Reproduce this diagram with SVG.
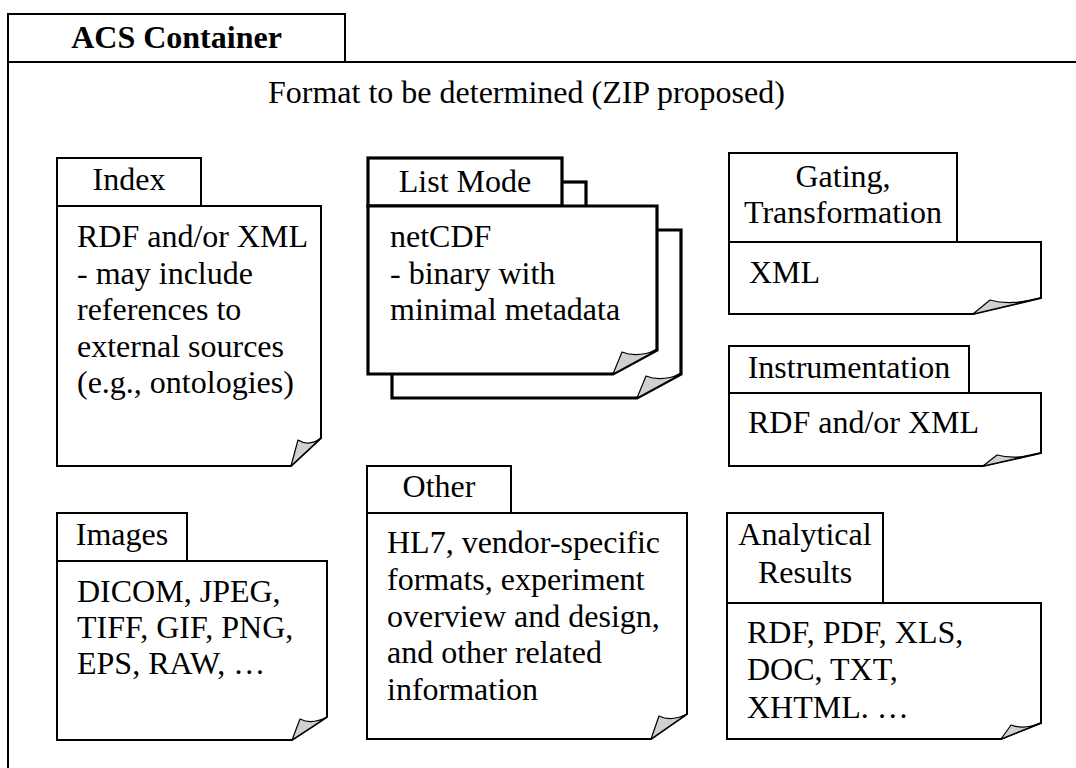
<svg xmlns="http://www.w3.org/2000/svg" width="1076" height="768" viewBox="0 0 1076 768" font-family="Liberation Serif, Times New Roman, serif" font-size="32">
<style>
text{font-family:Liberation Serif, Times New Roman, serif;font-size:32px;fill:#000}
.b{font-weight:bold}
.c{text-anchor:middle}
.ln{fill:#fff;stroke:#000;stroke-width:2;stroke-linejoin:miter}
.thick{stroke-width:3.2}
.flap{fill:#d0d0d0;stroke:#000;stroke-width:1.2;stroke-linejoin:round}
.frame{fill:none;stroke:#000;stroke-width:2}
</style>
<rect width="1076" height="768" fill="#fff"/>
<g id="container">
<path class="frame" d="M8,768 V14 H345 V62 M8,62 H1076"/>
<text class="b c" x="176.5" y="48" font-family="Liberation Serif, serif">ACS Container</text>
<text x="268" y="103" font-family="Liberation Serif, serif">Format to be determined (ZIP proposed)</text>
</g>
<g id="index" font-family="Liberation Serif, serif">
<rect class="ln" x="57" y="158" width="144" height="48"/>
<path class="ln" d="M57,206 H321 V438 L291,466 H57 Z"/>
<path class="flap" d="M291,466 L298,440 Q309,447 321,438 Z"/>
<text class="c" x="129" y="190">Index</text>
<text x="77" y="247">RDF and/or XML</text>
<text x="77" y="283.5">- may include</text>
<text x="77" y="320">references to</text>
<text x="77" y="356.5">external sources</text>
<text x="77" y="393">(e.g., ontologies)</text>
</g>
<g id="listmode">
<g transform="translate(24,24)">
<rect class="ln thick" x="368" y="158" width="194" height="48"/>
<path class="ln thick" d="M368,206 H657 V350 L613,374 H368 Z"/>
<path class="flap" d="M613,374 L622,352 Q637,358 657,350 Z"/>
</g>
<rect class="ln thick" x="368" y="158" width="194" height="48"/>
<path class="ln thick" d="M368,206 H657 V350 L613,374 H368 Z"/>
<path class="flap" d="M613,374 L622,352 Q637,358 657,350 Z"/>
<text class="c" x="465" y="192">List Mode</text>
<text x="390" y="247">netCDF</text>
<text x="390" y="283.5">- binary with</text>
<text x="390" y="320">minimal metadata</text>
</g>
<g id="gating">
<rect class="ln" x="729" y="153" width="228" height="89"/>
<path class="ln" d="M729,242 H1041 V298 L973,314 H729 Z"/>
<path class="flap" d="M973,314 L990,300 Q1010,306 1041,298 Z"/>
<text class="c" x="843" y="187">Gating,</text>
<text class="c" x="843" y="223">Transformation</text>
<text x="749" y="283">XML</text>
</g>
<g id="instrumentation">
<rect class="ln" x="729" y="346" width="240" height="47"/>
<path class="ln" d="M729,393 H1041 V453 L983,466 H729 Z"/>
<path class="flap" d="M983,466 L997,455 Q1015,460 1041,453 Z"/>
<text class="c" x="849" y="378">Instrumentation</text>
<text x="748" y="433">RDF and/or XML</text>
</g>
<g id="images">
<rect class="ln" x="57" y="513" width="130" height="48"/>
<path class="ln" d="M57,561 H327 V717 L292,740 H57 Z"/>
<path class="flap" d="M292,740 L300,719 Q312,725 327,717 Z"/>
<text class="c" x="122" y="545">Images</text>
<text x="77" y="602">DICOM, JPEG,</text>
<text x="77" y="638">TIFF, GIF, PNG,</text>
<text x="77" y="674">EPS, RAW, …</text>
</g>
<g id="other">
<rect class="ln" x="367" y="466" width="144" height="47"/>
<path class="ln" d="M367,513 H687 V714 L651,739 H367 Z"/>
<path class="flap" d="M651,739 L659,716 Q671,722 687,714 Z"/>
<text class="c" x="439" y="497">Other</text>
<text x="387" y="553">HL7, vendor-specific</text>
<text x="387" y="590">formats, experiment</text>
<text x="387" y="627">overview and design,</text>
<text x="387" y="663">and other related</text>
<text x="387" y="700">information</text>
</g>
<g id="analytical">
<rect class="ln" x="727" y="513" width="156" height="90"/>
<path class="ln" d="M727,603 H1041 V723 L1001,739 H727 Z"/>
<path class="flap" d="M1001,739 L1011,725 Q1024,730 1041,723 Z"/>
<text class="c" x="805" y="545">Analytical</text>
<text class="c" x="805" y="583">Results</text>
<text x="747" y="643">RDF, PDF, XLS,</text>
<text x="747" y="680">DOC, TXT,</text>
<text x="747" y="718">XHTML. …</text>
</g>
<g id="connectors"></g>
</svg>
